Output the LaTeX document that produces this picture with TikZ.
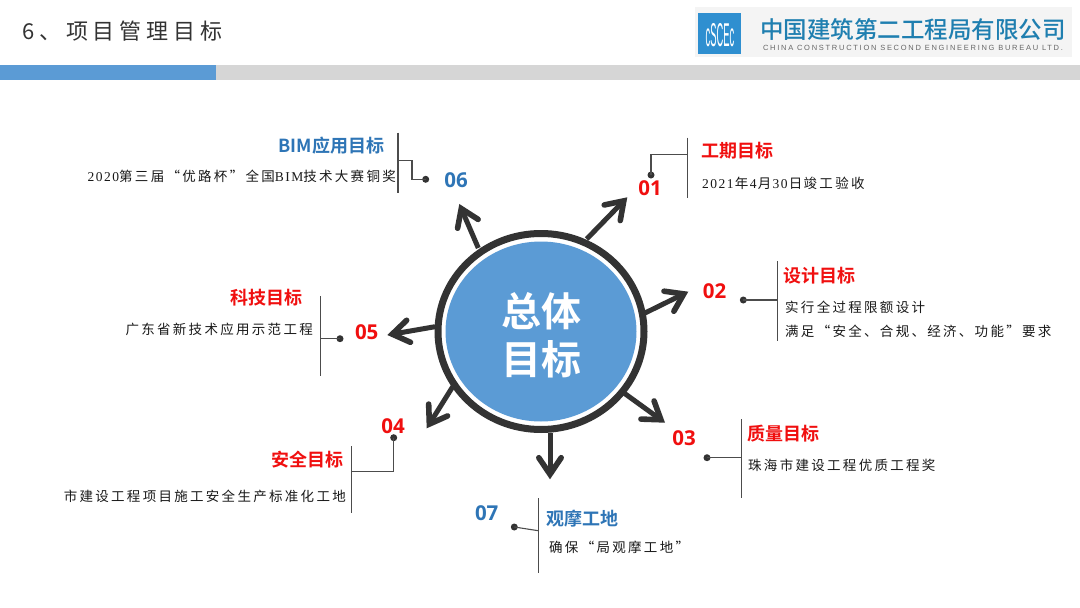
\documentclass[tikz,border=0pt]{standalone}
\usepackage{fontspec}
\setmainfont{Noto Sans CJK SC}
\newfontfamily\bodyf[LetterSpace=17]{Noto Sans CJK SC}
\newfontfamily\titlef[LetterSpace=22]{Noto Sans CJK SC}
\newfontfamily\headf{Noto Sans CJK SC Bold}
\newfontfamily\logof{Noto Sans CJK SC Medium}
\newfontfamily\numf{Open Sans}[BoldFont={* Bold}]
\newfontfamily\latinf{Liberation Sans}
\newfontfamily\digitf[LetterSpace=11]{Liberation Serif}
\newcommand{\dg}[1]{{\digitf #1}}
\usetikzlibrary{calc,shapes.geometric}
\definecolor{bluefill}{HTML}{5B9BD5}
\definecolor{greybar}{HTML}{D6D6D6}
\definecolor{darkline}{HTML}{333333}
\definecolor{titleblue}{HTML}{2E75B6}
\definecolor{redtext}{HTML}{F00F0F}
\definecolor{logoblue}{HTML}{2F8FD0}
\definecolor{logotext}{HTML}{1F7FB0}
\definecolor{logobg}{HTML}{F4F4F4}
\tikzset{
 x=1pt,y=-1pt,
 head/.style={font=\headf\fontsize{18}{20}\selectfont,inner sep=0pt},
 redh/.style={head,text=redtext},
 blueh/.style={head,text=titleblue},
 num/.style={font=\numf\bfseries\fontsize{20.5}{22}\selectfont,inner sep=0pt},
 rednum/.style={num,text=redtext},
 bluenum/.style={num,text=titleblue},
 body/.style={font=\bodyf\fontsize{13.5}{16}\selectfont,inner sep=0pt,text=black!90},
 rule/.style={draw=black!70,line width=1.1pt},
 dot/.style={circle,fill=darkline,inner sep=0pt,minimum size=7pt},
 spoke/.style={draw=darkline,line width=5pt},
 barb/.style={draw=darkline,line width=5.6pt,line cap=round,line join=miter},
}
\begin{document}
\begin{tikzpicture}
\useasboundingbox (0,0) rectangle (1080,608);
\fill[white] (0,0) rectangle (1080,608);
% header
\node[font=\titlef\fontsize{22}{24}\selectfont,anchor=west,inner sep=0pt,text=black!80] (title) at (22,31) {6、项目管理目标};
\fill[greybar] (216,65) rectangle (1080,80);
\fill[bluefill] (0,65) rectangle (216,80);
% logo
\fill[logobg] (695,7) rectangle (1072,57);
\fill[logoblue] (698,13) rectangle (741,54);
\node[text=white,inner sep=0pt] (logomark) at (720,35) {\scalebox{0.85}[3]{\latinf\fontsize{11}{12}\selectfont cSCEc}};
\node[font=\logof\fontsize{23.5}{26}\selectfont,text=logotext,anchor=center,inner sep=0pt] (logocn) at (913,29) {中国建筑第二工程局有限公司};
\node[font=\latinf\fontsize{7.5}{9}\selectfont,text=black!60,anchor=center,inner sep=0pt] (logoen) at (913,48) {\addfontfeature{LetterSpace=23}CHINA CONSTRUCTION SECOND ENGINEERING BUREAU LTD.};
% hub
\node[ellipse,draw=darkline,line width=7pt,fill=white,minimum width=206pt,minimum height=196pt,inner sep=0pt] (ring) at (541,331.5) {};
\node[ellipse,fill=bluefill,minimum width=191pt,minimum height=180pt,inner sep=0pt] (hub) at (541,331.5) {};
\node[align=center,text=white,font=\headf\fontsize{40}{48}\selectfont,inner sep=0pt] (hubtext) at (541,335) {总体\\目标};
% spokes
\coordinate (t1) at (627.3,197.3); \coordinate (s1) at (586.7,239);
\coordinate (t2) at (688.3,291.7); \coordinate (s2) at (645,313);
\coordinate (t3) at (665,422.7);   \coordinate (s3) at (624,393);
\coordinate (t4) at (426.7,428.3); \coordinate (s4) at (452.7,386.7);
\coordinate (t5) at (387.3,335);   \coordinate (s5) at (435,326.7);
\coordinate (t6) at (459.3,204);   \coordinate (s6) at (478.3,248);
\coordinate (t7) at (550,479.3);   \coordinate (s7) at (550,432.7);
\foreach \i in {1,...,7} {
 \coordinate (a\i) at ($(t\i)!5pt!(s\i)$);
 \draw[spoke] (s\i) -- (a\i);
 \draw[barb] ($(a\i)!20pt!34:(s\i)$) -- (a\i) -- ($(a\i)!20pt!-34:(s\i)$);
}
% 01
\node[redh] (h1) at (737.5,151) {工期目标};
\node[rednum] (n1) at (650,188.3) {01};
\node[body,anchor=west] (b1) at (702,183) {\dg{2021}\kern1.3pt年\kern1.3pt\dg{4}\kern1.3pt月\kern1.3pt\dg{30}\kern1.3pt日\kern1.3pt竣工验收};
\coordinate (v1a) at (687.3,137.7); \coordinate (v1b) at (687.3,197.7);
\draw[rule] (v1a) -- (v1b);
\node[dot] (d1) at (651,175) {};
\draw[rule] (d1.center) -- (651,154.3) -- (687.3,154.3);
% 02
\node[redh] (h2) at (819.5,276) {设计目标};
\node[rednum] (n2) at (714.5,291) {02};
\node[body,anchor=west] (b2a) at (785,307.7) {实行全过程限额设计};
\node[body,anchor=west] (b2b) at (785,331) {满足“安全、合规、经济、功能”要求};
\coordinate (v2a) at (777.3,261); \coordinate (v2b) at (777.3,341);
\draw[rule] (v2a) -- (v2b);
\node[dot] (d2) at (743.3,300) {};
\draw[rule] (d2.center) -- (777.3,300);
% 03
\node[redh] (h3) at (783.5,433.3) {质量目标};
\node[rednum] (n3) at (684,438.3) {03};
\node[body,anchor=west] (b3) at (748,465) {珠海市建设工程优质工程奖};
\coordinate (v3a) at (741.3,419.3); \coordinate (v3b) at (741.3,498);
\draw[rule] (v3a) -- (v3b);
\node[dot] (d3) at (707,457.7) {};
\draw[rule] (d3.center) -- (741.3,457.7);
% 04
\node[rednum] (n4) at (393,425.7) {04};
\node[redh] (h4) at (307,459.3) {安全目标};
\node[body,anchor=east] (b4) at (346,496.7) {市建设工程项目施工安全生产标准化工地};
\coordinate (v4a) at (351.7,446); \coordinate (v4b) at (351.7,513);
\draw[rule] (v4a) -- (v4b);
\node[dot] (d4) at (393.7,437.7) {};
\draw[rule] (d4.center) -- (393.7,471.7) -- (351.7,471.7);
% 05
\node[rednum] (n5) at (366.7,332) {05};
\node[redh] (h5) at (266.7,297.3) {科技目标};
\node[body,anchor=east] (b5) at (313,329.3) {广东省新技术应用示范工程};
\coordinate (v5a) at (320.7,296); \coordinate (v5b) at (320.7,376);
\draw[rule] (v5a) -- (v5b);
\node[dot] (d5) at (340,338.7) {};
\draw[rule] (d5.center) -- (320.7,338.7);
% 06
\node[bluenum] (n6) at (456,180) {06};
\node[blueh] (h6) at (331.5,146) {BIM应用目标};
\node[body,anchor=east] (b6) at (396,176.7) {\dg{2020}第三届“优路杯”全国\dg{BIM}技术大赛铜奖};
\coordinate (v6a) at (398,132.7); \coordinate (v6b) at (398,192.7);
\draw[rule] (v6a) -- (v6b);
\node[dot] (d6) at (425.7,179.3) {};
\draw[rule] (d6.center) -- (412,179.3) -- (412,160.7) -- (398,160.7);
% 07
\node[bluenum] (n7) at (486.7,513.3) {07};
\node[blueh] (h7) at (582.5,518.3) {观摩工地};
\node[body,anchor=west] (b7) at (549,547.7) {确保“局观摩工地”};
\coordinate (v7a) at (538.3,498); \coordinate (v7b) at (538.3,573.3);
\draw[rule] (v7a) -- (v7b);
\node[dot] (d7) at (514.3,527) {};
\draw[rule] (d7.center) -- (538.3,530.7);
\end{tikzpicture}
\end{document}
